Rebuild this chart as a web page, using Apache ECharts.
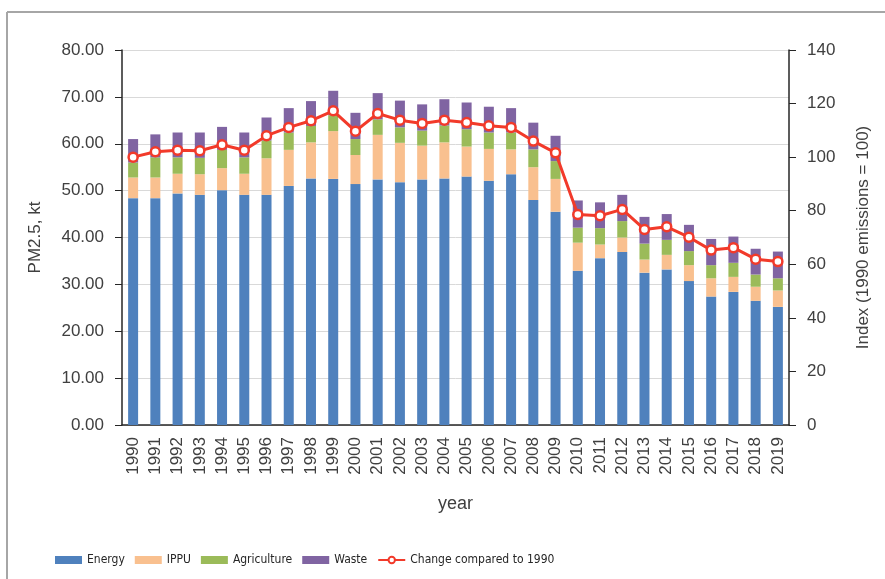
<!DOCTYPE html>
<html><head><meta charset="utf-8">
<script src="https://cdn.jsdelivr.net/npm/echarts@6/dist/echarts.min.js"></script>
<style>html,body{margin:0;padding:0;background:#fff}#c{width:885px;height:579px}</style>
</head><body><div id="c"></div>
<script>
const years = ['1990','1991','1992','1993','1994','1995','1996','1997','1998','1999','2000','2001','2002','2003','2004','2005','2006','2007','2008','2009','2010','2011','2012','2013','2014','2015','2016','2017','2018','2019'];
const energy = [48.4,48.4,49.4,49.1,50.1,49.1,49.1,51.0,52.6,52.5,51.4,52.4,51.8,52.4,52.6,53.0,52.1,53.5,48.0,45.5,32.9,35.6,36.9,32.5,33.2,30.7,27.4,28.4,26.5,25.2];
const ippu = [4.4,4.4,4.2,4.4,4.7,4.5,7.8,7.7,7.7,10.2,6.2,9.5,8.4,7.2,7.7,6.4,6.8,5.3,7.0,7.0,6.0,2.9,3.1,2.8,3.1,3.4,3.9,3.2,3.0,3.5];
const agriculture = [3.2,4.3,3.5,3.5,3.9,3.5,3.8,3.7,3.5,3.4,3.4,3.3,3.3,3.2,3.6,3.7,3.5,3.6,3.8,3.8,3.2,3.5,3.5,3.4,3.2,3.0,2.8,3.0,2.6,2.6];
const waste = [5.0,4.9,5.3,5.4,4.9,5.3,4.9,5.2,5.3,5.2,5.6,5.6,5.7,5.6,5.6,5.7,5.5,5.2,5.7,5.4,5.8,5.5,5.6,5.7,5.5,5.6,5.6,5.6,5.5,5.7];
const changeIndex = [100,102,102.6,102.4,104.6,102.6,108,111.1,113.6,117.3,109.7,116.3,113.8,112.6,113.8,112.9,111.7,111.1,106,101.6,78.6,78.1,80.5,73.0,74.0,70.1,65.3,66.2,61.9,61.0];

const txt = '#404040';
const ff = '"Liberation Sans", "DejaVu Sans", sans-serif';
const chart = echarts.init(document.getElementById('c'), null, {renderer:'canvas'});
function bar(name, data, color){
  return {name, type:'bar', stack:'pm', data, barWidth:10, itemStyle:{color}, emphasis:{disabled:true}};
}
chart.setOption({
  animation:false,
  textStyle:{fontFamily:ff},
  graphic:[
    {type:'line', shape:{x1:7,y1:12,x2:885,y2:12}, style:{stroke:'#a6a6a6', lineWidth:2}},
    {type:'line', shape:{x1:7,y1:12,x2:7,y2:579}, style:{stroke:'#a6a6a6', lineWidth:2}}
  ],
  grid:{left:122, right:96, top:50, bottom:154},
  legend:{
    left:50, top:549, itemWidth:27, itemHeight:8, itemGap:10,
    textStyle:{color:'#262626', fontSize:12, fontFamily:'"DejaVu Sans Condensed", "Liberation Sans", sans-serif'},
    data:[
      {name:'Energy', icon:'rect'},{name:'IPPU', icon:'rect'},{name:'Agriculture', icon:'rect'},{name:'Waste', icon:'rect'},
      {name:'Change compared to 1990'}
    ]
  },
  xAxis:{
    type:'category', data:years,
    name:'year', nameLocation:'middle', nameGap:70,
    nameTextStyle:{color:txt, fontSize:18},
    axisLine:{lineStyle:{color:'#262626', width:1.5}},
    axisTick:{show:false},
    axisLabel:{rotate:90, color:txt, fontSize:17, margin:12, interval:0}
  },
  yAxis:[
    {type:'value', min:0, max:80, interval:10,
     name:'PM2.5, kt', nameLocation:'middle', nameGap:78, nameRotate:90,
     nameTextStyle:{color:txt, fontSize:17},
     axisLine:{show:true, lineStyle:{color:'#262626', width:1.5}},
     axisTick:{show:true, length:7, lineStyle:{color:'#262626'}},
     axisLabel:{color:txt, fontSize:17, margin:18, formatter:v=>v.toFixed(2)},
     splitLine:{lineStyle:{color:'#d9d9d9'}}},
    {type:'value', min:0, max:140, interval:20, position:'right',
     name:'Index (1990 emissions = 100)', nameLocation:'middle', nameGap:66, nameRotate:90,
     nameTextStyle:{color:txt, fontSize:17},
     axisLine:{show:true, lineStyle:{color:'#262626', width:1.5}},
     axisTick:{show:true, length:7, lineStyle:{color:'#262626'}},
     axisLabel:{color:txt, fontSize:17, margin:18},
     splitLine:{show:false}}
  ],
  series:[
    bar('Energy', energy, '#4f81bd'),
    bar('IPPU', ippu, '#f9c08f'),
    bar('Agriculture', agriculture, '#9bbb59'),
    bar('Waste', waste, '#8064a2'),
    {name:'Change compared to 1990', type:'line', yAxisIndex:1, data:changeIndex,
     symbol:'circle', symbolSize:9,
     lineStyle:{color:'#f23a2a', width:3},
     itemStyle:{color:'#ffffff', borderColor:'#f23a2a', borderWidth:2.5},
     emphasis:{disabled:true}, z:5}
  ]
});
</script></body></html>
